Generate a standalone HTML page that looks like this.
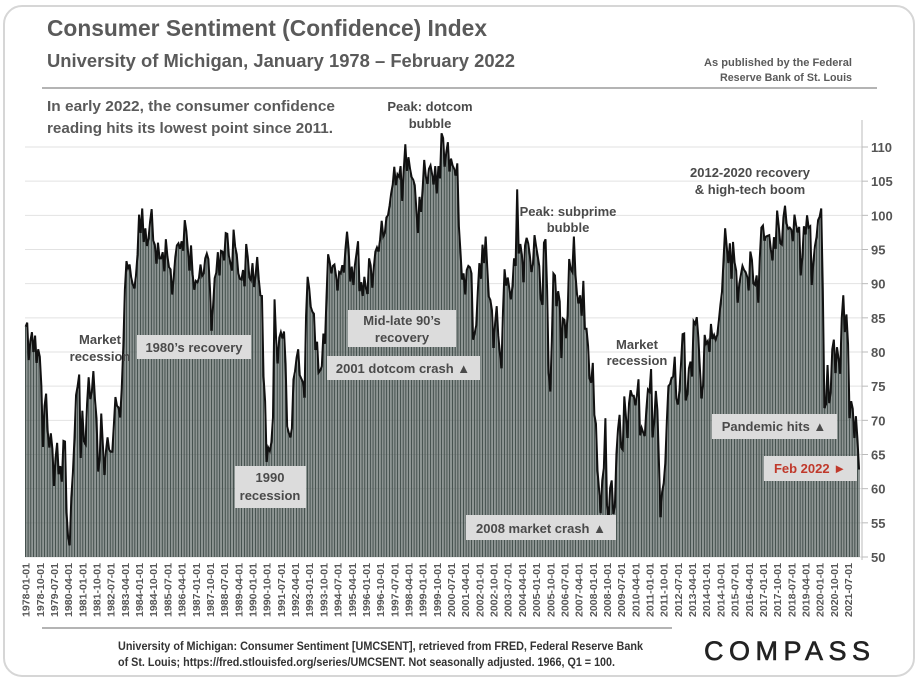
<!DOCTYPE html>
<html><head><meta charset="utf-8"><style>
html,body{margin:0;padding:0;background:#fff;}
svg{display:block;font-family:"Liberation Sans",sans-serif;}
</style></head><body>
<svg id="chart" width="920" height="682" viewBox="0 0 920 682" xmlns="http://www.w3.org/2000/svg">
<rect x="4" y="6" width="910" height="670" rx="18" fill="#fff" stroke="#d6d6d6" stroke-width="2"/>
<text x="47" y="36" font-size="23" font-weight="bold" fill="#5a5a5a" textLength="440" lengthAdjust="spacingAndGlyphs">Consumer Sentiment (Confidence) Index</text>
<text x="47" y="67" font-size="18" font-weight="bold" fill="#5a5a5a" textLength="468" lengthAdjust="spacingAndGlyphs">University of Michigan, January 1978 – February 2022</text>
<text x="852" y="66" font-size="11" font-weight="bold" fill="#5a5a5a" text-anchor="end" textLength="148" lengthAdjust="spacingAndGlyphs">As published by the Federal</text>
<text x="852" y="81" font-size="11" font-weight="bold" fill="#5a5a5a" text-anchor="end" textLength="132" lengthAdjust="spacingAndGlyphs">Reserve Bank of St. Louis</text>
<line x1="42" y1="88" x2="877" y2="88" stroke="#888" stroke-width="1.2"/>
<text x="47" y="111" font-size="15" font-weight="bold" fill="#5a5a5a" textLength="288" lengthAdjust="spacingAndGlyphs">In early 2022, the consumer confidence</text>
<text x="47" y="133" font-size="15" font-weight="bold" fill="#5a5a5a" textLength="286" lengthAdjust="spacingAndGlyphs">reading hits its lowest point since 2011.</text>
<g id="grid"></g>
<g id="bars"></g>
<path id="line" fill="none" stroke="#111" stroke-width="2"/>
<g id="axis"></g>
<g id="xlabels"></g>
<g id="notes" font-weight="bold" fill="#4a4a4a"></g>
<line x1="42" y1="628" x2="672" y2="628" stroke="#888" stroke-width="1.2"/>
<text x="118" y="650" font-size="12" font-weight="bold" fill="#333" textLength="525" lengthAdjust="spacingAndGlyphs">University of Michigan: Consumer Sentiment [UMCSENT], retrieved from FRED, Federal Reserve Bank</text>
<text x="118" y="666" font-size="12" font-weight="bold" fill="#333" textLength="497" lengthAdjust="spacingAndGlyphs">of St. Louis; https://fred.stlouisfed.org/series/UMCSENT. Not seasonally adjusted. 1966, Q1 = 100.</text>
<text x="704" y="660" font-size="27" fill="#222" stroke="#222" stroke-width="0.6" textLength="166" lengthAdjust="spacing">COMPASS</text>
</svg>
<script>
const startYear = 1978;
const values = [
83.7,84.3,78.8,81.6,82.9,80.0,82.4,78.4,80.4,79.3,75.0,66.1,
72.1,73.9,68.4,66.0,68.1,65.8,60.4,64.5,66.7,62.1,63.3,61.0,
67.0,66.9,56.5,52.7,51.7,58.7,62.3,67.4,73.7,75.0,76.7,64.5,
71.4,66.9,66.5,72.4,76.3,73.1,74.1,77.2,73.1,70.3,62.5,64.3,
71.0,66.5,62.0,65.5,67.5,65.7,65.4,65.4,69.3,73.4,72.1,71.9,
70.4,74.6,80.8,89.1,93.3,92.2,92.8,90.9,89.9,89.3,91.1,94.2,
100.1,97.4,101.0,96.1,98.1,95.5,96.6,99.1,100.9,96.3,95.7,92.9,
96.0,93.7,93.7,94.6,91.8,96.5,94.0,92.4,92.1,88.4,90.9,93.9,
95.6,95.9,95.1,96.2,94.8,99.3,97.7,94.9,91.9,95.6,91.4,89.1,
90.4,90.2,90.8,92.8,91.1,91.5,93.7,94.4,93.6,89.3,83.1,86.8,
90.8,91.6,94.6,91.2,94.8,94.7,93.4,97.4,97.3,94.1,93.0,91.9,
97.9,95.4,94.3,91.5,90.7,90.6,92.0,89.6,95.8,93.9,90.9,90.5,
93.0,89.5,91.3,93.9,90.6,88.3,88.2,76.4,72.8,63.9,66.0,65.5,
66.8,70.4,87.7,81.8,78.3,82.1,82.9,82.0,83.0,78.3,69.1,68.2,
67.5,68.8,76.0,77.2,79.2,80.4,76.6,76.1,75.6,73.3,85.3,91.0,
89.3,86.6,85.9,85.6,80.3,81.5,77.0,77.3,77.9,82.7,81.2,88.2,
94.3,93.2,91.5,92.6,92.8,91.2,89.0,91.7,91.5,92.7,91.6,95.1,
97.6,95.1,90.3,92.5,89.8,92.7,94.4,96.2,88.9,90.2,88.2,91.0,
89.3,88.5,93.7,92.7,89.4,92.4,94.7,95.3,94.7,96.5,99.2,96.9,
97.4,99.7,100.0,101.4,103.2,104.5,107.1,104.4,106.0,105.6,107.2,102.1,
106.6,110.4,106.5,108.5,106.8,105.6,105.2,104.4,100.9,97.4,102.7,100.5,
103.9,108.1,105.7,104.6,106.8,107.3,106.0,104.5,107.2,103.2,107.2,105.4,
112.0,111.3,107.1,109.2,110.7,106.4,108.3,107.3,106.8,105.8,107.6,98.4,
94.7,90.6,91.5,88.4,92.0,92.6,92.4,91.5,81.8,82.7,83.9,88.8,
93.0,90.7,95.7,93.0,96.9,92.4,88.1,87.6,86.1,80.6,84.2,86.7,
82.4,79.9,77.6,86.0,92.1,89.7,90.9,89.3,87.7,89.6,93.7,92.6,
103.8,94.4,95.8,94.2,90.2,95.6,96.7,95.9,94.2,91.7,92.8,97.1,
95.5,94.1,92.6,87.7,86.9,96.0,96.5,89.1,76.9,74.2,81.6,91.5,
91.2,86.7,88.9,87.4,79.1,84.9,84.7,82.0,85.4,93.6,92.1,91.7,
96.9,91.3,88.4,87.1,88.3,85.3,90.4,83.4,83.4,80.9,76.1,75.5,
78.4,70.8,69.5,62.6,59.8,56.4,61.2,63.0,70.3,57.6,55.3,60.1,
61.2,56.3,57.3,65.1,68.7,70.8,66.0,65.7,73.5,70.6,67.4,72.5,
74.4,73.6,73.6,72.2,73.6,76.0,67.8,68.9,68.2,67.7,71.6,74.5,
74.2,77.5,67.5,69.8,74.3,71.5,63.7,55.8,59.5,60.8,63.7,69.9,
75.0,75.3,76.2,76.4,79.3,73.2,72.3,74.3,78.3,82.6,82.7,72.9,
73.8,77.6,78.6,76.4,84.5,84.1,85.1,82.1,77.5,73.2,75.1,82.5,
81.2,81.6,80.0,84.1,81.9,82.5,81.8,82.5,84.6,86.9,88.8,93.6,
98.1,95.4,93.0,95.9,90.7,96.1,93.1,91.9,87.2,90.0,91.3,92.6,
92.0,91.7,91.0,89.0,94.7,93.5,90.0,89.8,91.2,87.2,93.8,98.2,
98.5,96.3,96.9,97.0,97.1,95.0,93.4,96.8,95.1,100.7,98.5,95.9,
95.7,99.7,101.4,98.8,98.0,98.2,97.9,96.2,100.1,98.6,97.5,98.3,
91.2,93.8,98.4,97.2,100.0,98.2,98.4,89.8,93.2,95.5,96.8,99.3,
99.8,101.0,89.1,71.8,72.3,78.1,72.5,74.1,80.4,81.8,76.9,80.7,
79.0,76.8,84.9,88.3,82.9,85.5,81.2,70.3,72.8,71.7,67.4,70.6,
67.2,62.8];
const yTicks = [50,55,60,65,70,75,80,85,90,95,100,105,110];
const labelEvery = 9;

const NS = "http://www.w3.org/2000/svg";
const X0 = 25, X1 = 860, Y0 = 557, YTOP = 147;
const yMin = 50, yMax = 110;
const step = (X1 - X0) / values.length;
function xScale(i){ return X0 + i * step; }
function yScale(v){ return Y0 - (v - yMin) / (yMax - yMin) * (Y0 - YTOP); }
function mk(tag, attrs, parent){ const e = document.createElementNS(NS, tag); for (const k in attrs) e.setAttribute(k, attrs[k]); parent.appendChild(e); return e; }

const grid = document.getElementById('grid');
const axis = document.getElementById('axis');
yTicks.forEach(t => {
  const y = yScale(t);
  const g = mk('line', {x1: X0, x2: 862, y1: y, y2: y, stroke: '#e2e2e2', 'stroke-width': 1}, grid);
  
  
  const tk = mk('line', {x1: 862, x2: 868, y1: y, y2: y, stroke: '#bbb'}, axis);
  
  
  const lb = mk('text', {x: 871, y: y + 5, 'font-size': 13, 'font-weight': 'bold', fill: '#555'}, axis);
  lb.textContent = t;
  
  
});
const ax = mk('line', {x1: 862, x2: 862, y1: 120, y2: 560, stroke: '#bbb'}, axis);



const bars = document.getElementById('bars');
let d = '';
values.forEach((v, i) => {
  const x = xScale(i), y = yScale(v);
  const b = mk('rect', {x: x.toFixed(2), y: y.toFixed(2), width: (step * 0.75).toFixed(2), height: (Y0 - y).toFixed(2), fill: '#46524f'}, bars);
  
  
  d += (i ? 'L' : 'M') + (x + step * 0.4).toFixed(2) + ' ' + y.toFixed(2);
});
document.getElementById('line').setAttribute('d', d);

const xl = document.getElementById('xlabels');
for (let i = 0; i < values.length; i += labelEvery) {
  const yr = startYear + Math.floor(i / 12), mo = (i % 12) + 1;
  const s = yr + '-' + String(mo).padStart(2, '0') + '-01';
  const x = xScale(i) + step * 0.4 + 4;
  const t = mk('text', {x: x, y: 563, 'font-size': 10, 'font-weight': 'bold', fill: '#555', 'text-anchor': 'end', transform: 'rotate(-90 ' + x + ' 563)', textLength: 54, lengthAdjust: 'spacingAndGlyphs'}, xl);
  t.textContent = s;
  
  
}

const notes = document.getElementById('notes');
function box(name, x, y, w, h){ const r = mk('rect', {x: x, y: y, width: w, height: h, fill: '#dcdcdc'}, notes);   }
function txt(name, s, x, y, size, fill){ const t = mk('text', {x: x, y: y, 'font-size': size || 13, 'text-anchor': 'middle', fill: fill || '#4a4a4a'}, notes); t.textContent = s;   }
txt('note-market-recession-1980', 'Market', 100, 344);
txt('note-market-recession-1980-2', 'recession', 100, 361);
box('box-1980s-recovery', 137, 335, 114, 24); txt('note-1980s-recovery', '1980’s recovery', 194, 352);
box('box-90s-recovery', 348, 310, 108, 37); txt('note-90s-recovery', 'Mid-late 90’s', 402, 325); txt('note-90s-recovery-2', 'recovery', 402, 342);
box('box-2001-crash', 327, 356, 153, 24); txt('note-2001-crash', '2001 dotcom crash ▲', 403, 373);
box('box-1990-recession', 235, 466, 71, 42); txt('note-1990-recession', '1990', 270, 482); txt('note-1990-recession-2', 'recession', 270, 500);
txt('note-peak-dotcom', 'Peak: dotcom', 430, 111); txt('note-peak-dotcom-2', 'bubble', 430, 128);
txt('note-peak-subprime', 'Peak: subprime', 568, 216); txt('note-peak-subprime-2', 'bubble', 568, 232);
txt('note-market-recession-2008', 'Market', 637, 349); txt('note-market-recession-2008-2', 'recession', 637, 365);
box('box-2008-crash', 466, 515, 150, 25); txt('note-2008-crash', '2008 market crash ▲', 541, 533);
txt('note-2012-recovery', '2012-2020 recovery', 750, 177); txt('note-2012-recovery-2', '& high-tech boom', 750, 194);
box('box-pandemic', 712, 414, 125, 25); txt('note-pandemic', 'Pandemic hits ▲', 774, 431);
box('box-feb-2022', 764, 456, 93, 25); txt('note-feb-2022', 'Feb 2022 ►', 810, 473, 13, '#c0392b');
</script>
</body></html>
